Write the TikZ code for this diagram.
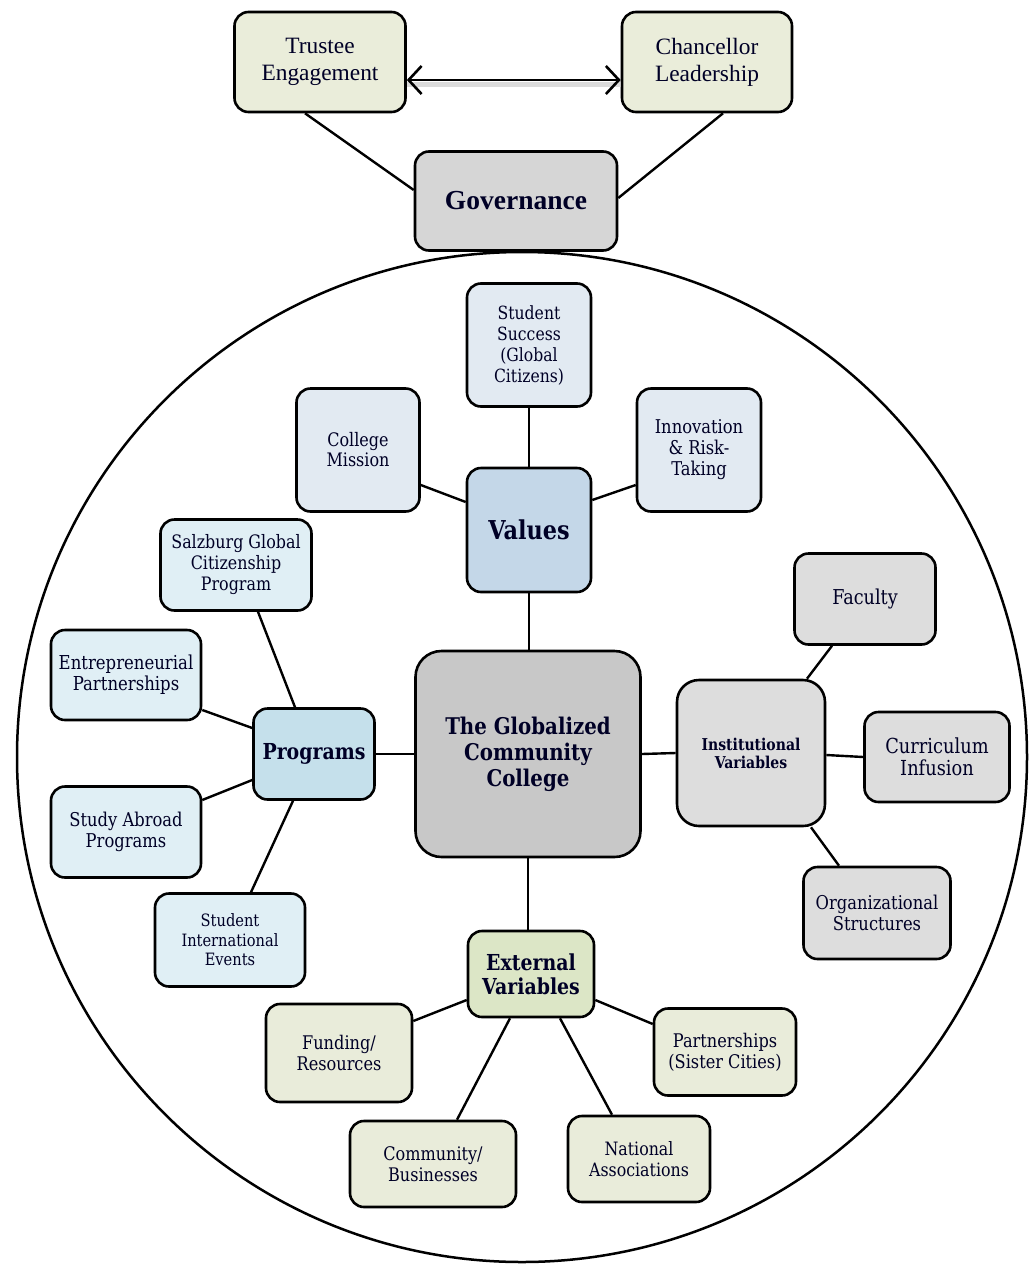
\documentclass[tikz,border=0pt]{standalone}
\usepackage{fontspec}
\setmainfont{Liberation Serif}
\newfontfamily\cam[FakeStretch=0.86]{DejaVu Serif}
\usetikzlibrary{arrows.meta}
\definecolor{olive}{HTML}{EAEDDA}
\definecolor{govgray}{HTML}{D6D6D6}
\definecolor{valblue}{HTML}{C4D7E8}
\definecolor{valkid}{HTML}{E2EAF2}
\definecolor{cengray}{HTML}{C8C8C8}
\definecolor{progblue}{HTML}{C5E0EB}
\definecolor{progkid}{HTML}{E0EFF5}
\definecolor{instgray}{HTML}{DDDDDD}
\definecolor{extgreen}{HTML}{DCE6C6}
\definecolor{extkid}{HTML}{E9ECDA}
\tikzset{
  box/.style={draw=black, line width=2.6pt, rounded corners=14pt, align=center, inner sep=0pt, text=black!85!blue},
  kid/.style={box, font=\cam\fontsize{18.8}{21}\selectfont},
  conn/.style={line width=2.4pt, draw=black},
}
\begin{document}
\begin{tikzpicture}[x=1pt,y=-1pt]
\useasboundingbox (0,0) rectangle (1034,1264);
% big circle
\draw[line width=2.5pt] (522,757) circle[radius=505];
% top
\node[box, fill=olive, minimum width=171pt, minimum height=100pt, font=\fontsize{23.4}{27}\selectfont] (trus) at (320,62) {Trustee\\Engagement};
\node[box, fill=olive, minimum width=170pt, minimum height=100pt, font=\fontsize{23.4}{27}\selectfont] (chan) at (707,62) {Chancellor\\Leadership};
\node[box, fill=govgray, minimum width=202pt, minimum height=99pt, font=\bfseries\fontsize{27.5}{32}\selectfont] (gov) at (516,201) {Governance};
\draw[line width=5pt, gray!40, opacity=0.7] ([yshift=-22pt]trus.east) -- ([yshift=-22pt]chan.west);
\draw[line width=2.6pt, {Straight Barb[length=13pt,width=28pt]}-{Straight Barb[length=13pt,width=28pt]}] ([yshift=-18pt]trus.east) -- ([yshift=-18pt]chan.west);
\draw[conn] ([xshift=-15pt]trus.south) -- ([yshift=11pt]gov.west);
\draw[conn] ([xshift=16pt]chan.south) -- ([yshift=3pt]gov.east);
% values
\node[box, fill=valblue, minimum width=124pt, minimum height=124pt, font=\cam\bfseries\fontsize{26}{30}\selectfont] (val) at (529,530) {Values};
\node[kid, fill=valkid, minimum width=124pt, minimum height=123pt, font=\cam\fontsize{18.2}{21}\selectfont] (ss) at (529,345) {Student\\Success\\(Global\\Citizens)};
\node[kid, fill=valkid, minimum width=123pt, minimum height=123pt, font=\cam\fontsize{18.6}{20}\selectfont] (cm) at (358,450) {College\\Mission};
\node[kid, fill=valkid, minimum width=124pt, minimum height=123pt, font=\cam\fontsize{19}{21}\selectfont] (inn) at (699,450) {Innovation\\\& Risk-\\Taking};
% center
\node[box, fill=cengray, minimum width=225pt, minimum height=206pt, rounded corners=26pt, font=\cam\bfseries\fontsize{23}{26}\selectfont] (cen) at (528,754) {The Globalized\\Community\\College};
% programs
\node[box, fill=progblue, minimum width=121pt, minimum height=91pt, font=\cam\bfseries\fontsize{22}{24}\selectfont] (prog) at (314,754) {Programs};
\node[kid, fill=progkid, minimum width=151pt, minimum height=91pt, font=\cam\fontsize{18.5}{21}\selectfont] (salz) at (236,565) {Salzburg Global\\Citizenship\\Program};
\node[kid, fill=progkid, minimum width=150pt, minimum height=90pt, font=\cam\fontsize{19.2}{21}\selectfont] (ent) at (126,675) {Entrepreneurial\\Partnerships};
\node[kid, fill=progkid, minimum width=150pt, minimum height=91pt, font=\cam\fontsize{19}{21}\selectfont] (sa) at (126,832) {Study Abroad\\Programs};
\node[kid, fill=progkid, minimum width=150pt, minimum height=93pt, font=\cam\fontsize{17}{19.5}\selectfont] (sie) at (230,940) {Student\\International\\Events};
% institutional
\node[box, fill=instgray, minimum width=148pt, minimum height=146pt, rounded corners=22pt, font=\cam\bfseries\fontsize{16.3}{18}\selectfont] (inst) at (751,753) {Institutional\\Variables};
\node[kid, fill=instgray, minimum width=141pt, minimum height=91pt, font=\cam\fontsize{20.5}{22}\selectfont] (fac) at (865,599) {Faculty};
\node[kid, fill=instgray, minimum width=145pt, minimum height=90pt, font=\cam\fontsize{20.7}{22}\selectfont] (cur) at (937,757) {Curriculum\\Infusion};
\node[kid, fill=instgray, minimum width=147pt, minimum height=92pt, font=\cam\fontsize{19}{21}\selectfont] (org) at (877,913) {Organizational\\Structures};
% external
\node[box, fill=extgreen, minimum width=126pt, minimum height=86pt, font=\cam\bfseries\fontsize{22}{24}\selectfont] (ext) at (531,974) {External\\Variables};
\node[kid, fill=extkid, minimum width=146pt, minimum height=98pt] (fund) at (339,1053) {Funding/\\Resources};
\node[kid, fill=extkid, minimum width=166pt, minimum height=86pt, font=\cam\fontsize{18.7}{21}\selectfont] (com) at (433,1164) {Community/\\Businesses};
\node[kid, fill=extkid, minimum width=142pt, minimum height=86pt, font=\cam\fontsize{18.4}{21}\selectfont] (nat) at (639,1159) {National\\Associations};
\node[kid, fill=extkid, minimum width=142pt, minimum height=87pt, font=\cam\fontsize{18.8}{21}\selectfont] (part) at (725,1052) {Partnerships\\(Sister Cities)};
% connectors
\draw[conn] (ss.south) -- (val.north);
\draw[conn] ([yshift=-35pt]cm.east) -- ([yshift=28pt]val.west);
\draw[conn] ([yshift=30pt]val.east) -- ([yshift=-35pt]inn.west);
\draw[conn] (val.south) -- (val.south |- cen.north);
\draw[conn] (cen.west) -- (prog.east);
\draw[conn] ([xshift=22pt]salz.south) -- ([xshift=-19pt]prog.north);
\draw[conn] ([yshift=-35pt]ent.east) -- ([yshift=26pt]prog.west);
\draw[conn] ([yshift=32pt]sa.east) -- ([yshift=-26pt]prog.west);
\draw[conn] ([xshift=21pt]sie.north) -- ([xshift=-21pt]prog.south);
\draw[conn] (cen.east) -- (inst.west);
\draw[conn] ([xshift=56pt]inst.north) -- ([xshift=-33pt]fac.south);
\draw[conn] ([yshift=-2pt]inst.east) -- (cur.west);
\draw[conn] ([xshift=60pt]inst.south) -- ([xshift=-38pt]org.north);
\draw[conn] (cen.south) -- (cen.south |- ext.north);
\draw[conn] ([yshift=32pt]fund.east) -- ([yshift=-26pt]ext.west);
\draw[conn] ([xshift=24pt]com.north) -- ([xshift=-21pt]ext.south);
\draw[conn] ([xshift=-27pt]nat.north) -- ([xshift=29pt]ext.south);
\draw[conn] ([yshift=28pt]part.west) -- ([yshift=-26pt]ext.east);
\end{tikzpicture}
\end{document}
